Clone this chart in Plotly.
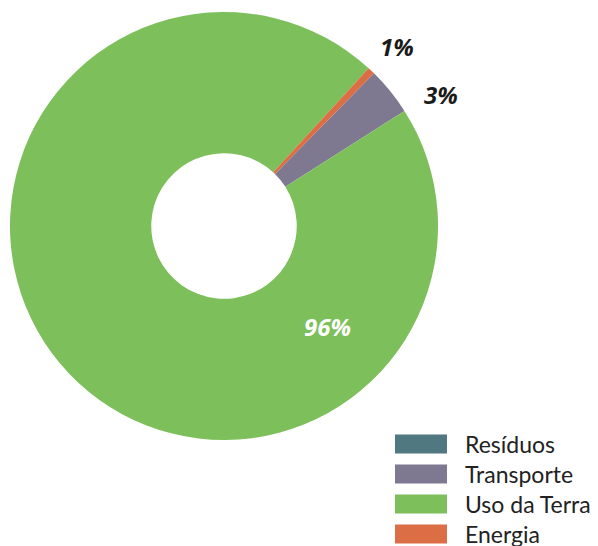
import plotly.graph_objects as go

categories = ["Resíduos", "Transporte", "Uso da Terra", "Energia"]
values = [0.0, 3.6, 95.85, 0.55]
labels_text = ["", "3%", "96%", "1%"]
colors = ["#4F7880", "#7F7891", "#7DBF5A", "#DB6E45"]

W, H = 598, 546
OFF = 8  # page body margin in the browser


def px(x):
    return (x - OFF) / W


def py(y):
    return (H - (y - OFF)) / H


fig = go.Figure()
fig.add_trace(go.Pie(
    labels=categories,
    values=values,
    textinfo="none",
    marker=dict(colors=colors, line=dict(width=0)),
    hole=0.34,
    sort=False,
    direction="clockwise",
    rotation=44.5,
    showlegend=False,
    domain=dict(x=[px(10), px(438)], y=[py(440), py(12)]),
))

# percentage labels
label_pos = {"Transporte": (441, 94, "#1a1a1a"),
             "Uso da Terra": (327, 327, "white"),
             "Energia": (397, 47, "#1a1a1a")}
for cat, txt in zip(categories, labels_text):
    if not txt:
        continue
    x, y, c = label_pos[cat]
    fig.add_annotation(xref="paper", yref="paper", x=px(x), y=py(y), text=txt,
                       showarrow=False, xanchor="center", yanchor="middle",
                       font=dict(size=24, color=c, family="Open Sans",
                                 weight="bold", style="italic"))

# legend drawn as swatches + labels
for i, (cat, col) in enumerate(zip(categories, colors)):
    yc = 444 + 30 * i
    fig.add_shape(type="rect", xref="paper", yref="paper",
                  x0=px(395), x1=px(447), y0=py(yc + 9.5), y1=py(yc - 9.5),
                  fillcolor=col, line=dict(width=0))
    fig.add_annotation(xref="paper", yref="paper", x=px(463), y=py(yc),
                       text=cat, showarrow=False, xanchor="left", yanchor="middle",
                       font=dict(size=23, color="#222222", family="Lato"))

fig.update_layout(
    width=W, height=H,
    margin=dict(l=0, r=0, t=0, b=0),
    paper_bgcolor="white", plot_bgcolor="white",
)
fig.write_html("out.html")
